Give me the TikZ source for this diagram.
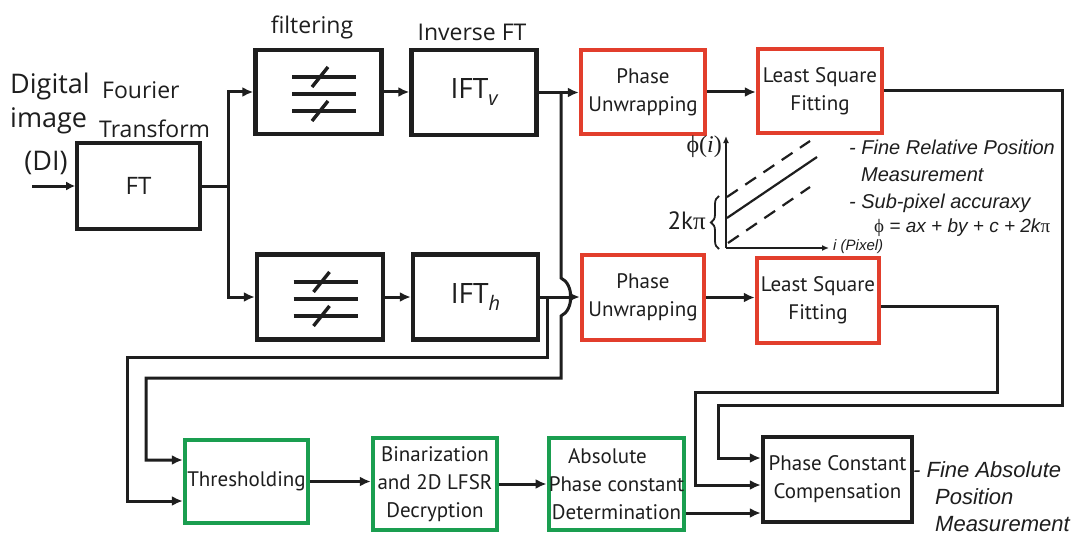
\documentclass[tikz,border=0pt]{standalone}
\usepackage{fontspec}
\setmainfont{PT Sans}
\newfontfamily\boxfont{PT Sans}
\newfontfamily\labfont{Open Sans}
\newfontfamily\notefont{Liberation Sans}
\newfontfamily\symfont{Liberation Serif}
\usetikzlibrary{arrows.meta,decorations.pathreplacing}
\definecolor{boxred}{RGB}{226,62,44}
\definecolor{boxgreen}{RGB}{26,158,80}
\definecolor{ink}{RGB}{30,30,30}

% three-line filter glyph, drawn around a node centre
\newcommand\filtersym[1]{%
  \begin{scope}[shift={(#1.center)}, shift={(5.5,2)}, line width=3.4pt, draw=ink]
    \draw (-32,-17) -- (32,-17);
    \draw (-32,0) -- (32,0);
    \draw (-32,17) -- (32,17);
    \draw (-12,-7) -- (4,-27);
    \draw (-12,27) -- (4,7);
  \end{scope}}

\begin{document}
\begin{tikzpicture}[x=1pt,y=-1pt,
  base/.style={rectangle, inner sep=0pt, align=center, text=ink,
    font=\boxfont\fontsize{21}{28}\selectfont},
  blackbox/.style={base, draw=ink, line width=4.4pt},
  redbox/.style={base, draw=boxred, line width=4.4pt},
  greenbox/.style={base, draw=boxgreen, line width=4.4pt},
  wire/.style={line width=3pt, draw=ink},
  arr/.style={wire, -{Latex[length=11pt,width=10pt]}},
  title/.style={inner sep=0pt, text=ink, font=\labfont\fontsize{23}{23}\selectfont},
  note/.style={inner sep=0pt, anchor=west, text=ink,
    font=\notefont\itshape\fontsize{20}{20}\selectfont},
  bignote/.style={note, font=\notefont\itshape\fontsize{22}{22}\selectfont}]
\useasboundingbox (0,0) rectangle (1080,535);
\fill[white] (0,0) rectangle (1080,535);

% ---- processing blocks ----
\node[blackbox, line width=3.6pt, minimum width=123pt, minimum height=86pt] (ft) at (138.5,186)
  {\labfont\fontsize{24}{24}\selectfont FT};
\node[blackbox, minimum width=126pt, minimum height=84pt] (ftop) at (318.5,92) {};
\node[blackbox, minimum width=126pt, minimum height=85pt] (fbot) at (320,297) {};
\node[blackbox, minimum width=125pt, minimum height=85pt] (iftv) at (474,92.5)
  {\labfont\fontsize{28}{28}\selectfont IFT\raisebox{-7pt}{\fontsize{20}{20}\selectfont\itshape v}};
\node[blackbox, minimum width=125pt, minimum height=85pt] (ifth) at (475.5,297)
  {\labfont\fontsize{28}{28}\selectfont IFT\raisebox{-7pt}{\fontsize{20}{20}\selectfont\itshape h}};
\node[redbox, minimum width=124pt, minimum height=84pt] (puv) at (643,92) {Phase\\Unwrapping};
\node[redbox, minimum width=122pt, minimum height=85pt] (puh) at (643,297.5) {Phase\\Unwrapping};
\node[redbox, minimum width=124pt, minimum height=84pt] (lsv) at (820,91) {Least Square\\Fitting};
\node[redbox, minimum width=122pt, minimum height=85pt] (lsh) at (818,300.5) {Least Square\\Fitting};
\node[greenbox, minimum width=123pt, minimum height=83pt] (thr) at (246.5,481.5) {Thresholding};
\node[greenbox, minimum width=124pt, minimum height=92pt] (bin) at (435,484)
  {Binarization\\and 2D LFSR\\Decryption};
\node[greenbox, minimum width=133pt, minimum height=92pt] (abs) at (616.5,484)
  {Absolute\hspace*{18pt}\\Phase constant\\Determination};
\node[blackbox, minimum width=149pt, minimum height=85pt] (pcc) at (837.5,479.5)
  {Phase Constant\\Compensation};

\filtersym{ftop}
\filtersym{fbot}

% ---- headings ----
\node[title, font=\labfont\fontsize{27}{27}\selectfont, anchor=west] (tdig) at (10,86) {Digital};
\node[title, font=\labfont\fontsize{27}{27}\selectfont, anchor=west] (timg) at (10,121) {image};
\node[title, font=\labfont\fontsize{27}{27}\selectfont] (tdi) at (46,163) {(DI)};
\node[title, anchor=west] (tfou) at (102,90) {Fourier};
\node[title, anchor=west] (ttra) at (99,129) {Transform};
\node[title] (tfil) at (312,27) {filtering};
\node[title] (tinv) at (472,32) {Inverse FT};

% ---- connectors ----
\coordinate (din) at (32,186);
\draw[arr, -{Latex[length=9pt,width=9pt]}] (din) -- (ft.west);
\coordinate (fj) at (228,186);
\draw[wire] (ft.east) -- (fj);
\draw[arr] (fj) |- (ftop.west);
\draw[arr] (fj) |- (fbot.west);
\draw[arr] (ftop.east) -- (ftop.east -| iftv.west);
\draw[arr] (fbot.east) -- (fbot.east -| ifth.west);
\draw[arr] (iftv.east) -- (iftv.east -| puv.west);
\draw[arr] (ifth.east) -- (ifth.east -| puh.west);
\draw[arr] (puv.east) -- (puv.east -| lsv.west);
\draw[arr] (puh.east) -- (puh.east -| lsh.west);

% branch of the vertical path, hopping over the horizontal one
\coordinate (hopT) at (561,278);
\coordinate (hopB) at (561,316);
\coordinate (vturn) at (561,378);
\coordinate (thrA) at (146,460);
\draw[arr] (iftv.east -| hopT) -- (hopT) .. controls +(13,6) and +(13,-6) .. (hopB)
  -- (vturn) -| (thrA) -- (thrA -| thr.west);

% branch of the horizontal path
\coordinate (hturn) at (547,357);
\coordinate (thrB) at (127,501);
\draw[arr] (ifth.east -| hturn) -- (hturn) -| (thrB) -- (thrB -| thr.west);

\draw[arr] (thr.east) -- (thr.east -| bin.west);
\draw[arr] (bin.east) -- (bin.east -| abs.west);

% fitted phases into the compensation block
\coordinate (rv) at (1062,405);
\coordinate (cv) at (718,458);
\draw[arr] (lsv.east) -| (rv) -| (cv) -- (cv -| pcc.west);
\coordinate (rh) at (997,392);
\coordinate (ch) at (695,485);
\draw[arr] ([yshift=-6pt]lsh.east) -| (rh) -| (ch) -- (ch -| pcc.west);
\coordinate (ad) at ([yshift=-29pt]abs.east);
\draw[arr] (ad) -- (ad -| pcc.west);

% ---- phase plot ----
\coordinate (go) at (726,248);
\coordinate (gy) at (726,136);
\coordinate (gx) at (829,248);
\draw[line width=2.2pt, draw=ink, -{Latex[length=7pt,width=6pt]}] (go) -- (gy);
\draw[line width=2.2pt, draw=ink, -{Latex[length=7pt,width=6pt]}] (go) -- (gx);
\draw[line width=2.2pt, draw=ink] (727,218) -- (817,157);
\draw[line width=2.2pt, draw=ink, dash pattern=on 13pt off 9pt] (727,197) -- (810,141);
\draw[line width=2.2pt, draw=ink, dash pattern=on 13pt off 9pt] (728,243) -- (810,187);
\draw[line width=1.8pt, draw=ink, decorate, decoration={brace, amplitude=8pt}] (719,249) -- (719,196);
\node[inner sep=0pt, anchor=east, text=ink, font=\fontsize{24}{24}\selectfont] (phi) at (722,147)
  {{\symfont ϕ(\itshape i\/\upshape)}};
\node[inner sep=0pt, anchor=east, text=ink, font=\boxfont\fontsize{25}{25}\selectfont] (tkp) at (706,221)
  {2k{\symfont π}};
\node[note, font=\notefont\itshape\fontsize{15}{15}\selectfont] (tpix) at (833,247) {i (Pixel)};

% ---- remarks ----
\node[note] (n1) at (849,147) {- Fine Relative Position};
\node[note] (n2) at (861,175) {Measurement};
\node[note] (n3) at (849,203) {- Sub-pixel accuraxy};
\node[note, font=\notefont\itshape\fontsize{19}{19}\selectfont] (n4) at (874,228)
  {{\symfont\upshape ϕ} = ax + by + c + 2k{\symfont\upshape π}};
\node[bignote] (m1) at (913,470) {- Fine Absolute};
\node[bignote] (m2) at (935,497) {Position};
\node[bignote] (m3) at (935,524) {Measurement};
\end{tikzpicture}
\end{document}
